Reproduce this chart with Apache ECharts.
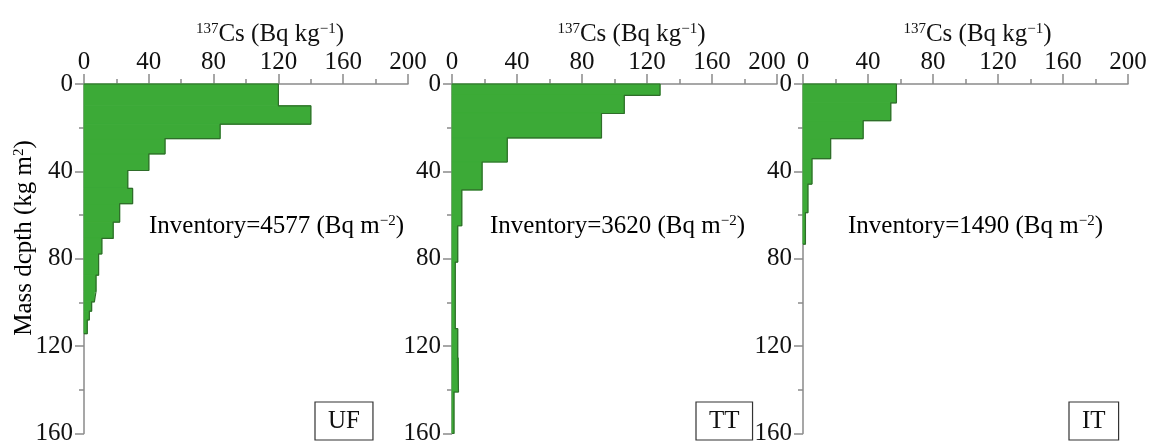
<!DOCTYPE html>
<html><head><meta charset="utf-8">
<script src="https://cdn.jsdelivr.net/npm/echarts@6/dist/echarts.min.js"></script>
<style>html,body{margin:0;padding:0;background:#fff}#c{width:1151px;height:446px}</style>
</head><body><div id="c"></div>
<script>
// ---- data ----
const panels = ['UF', 'TT', 'IT'];
const inventories = [4577, 3620, 1490];
const xTicks = [0, 40, 80, 120, 160, 200];
const yTicks = [0, 40, 80, 120, 160];
// layer boundaries (mass depth, kg m-2) and 137Cs activity (Bq kg-1)
const ufDepth = [0, 10, 18.4, 25, 32, 39.6, 47.8, 54.8, 63.2, 70.7, 77.8, 87.5, 95, 99.7, 104, 108, 114.3];
const ufCs    = [120, 140, 84, 50, 40, 27, 30, 22, 18, 11, 9, 7.4, 6.4, 4.7, 3.3, 2];
const ttDepth = [0, 5.2, 13.5, 24.7, 35.7, 48.5, 64.9, 81.5, 112, 125.4, 141, 160];
const ttCs    = [128, 106, 92, 34, 18.5, 6, 3.5, 2, 3.5, 4, 1.2];
const itDepth = [0, 8.6, 16.8, 25, 34.2, 45.8, 58.9, 73.3];
const itCs    = [57.5, 54, 37, 17, 5.5, 3, 1.5];

const depths = [ufDepth, ttDepth, itDepth];
const values = [ufCs, ttCs, itCs];

// ---- layout / style ----
const FONT = 'Liberation Serif';
const FS = 25;
const gridLefts = [84, 452, 803];
const gridWidths = [324, 325, 325];
const titleShift = [24, 17, 12];
const maxLabelNudge = [0, 20, 0];
const AXIS_C = '#8a8a8a';
const FILL = '#3caa37';
const EDGE = '#2f6d2a';
const richSup = {
  n: { fontFamily: FONT, fontSize: FS, color: '#111' },
  sup: { fontFamily: FONT, fontSize: 15, color: '#111', verticalAlign: 'top' }
};

const grids = [], xAxes = [], yAxes = [], series = [], graphics = [];
panels.forEach((p, i) => {
  grids.push({ left: gridLefts[i], width: gridWidths[i], top: 84, height: 359, containLabel: false });
  const xMax = xTicks[xTicks.length - 1];
  xAxes.push({
    type: 'value', gridIndex: i, position: 'top',
    min: xTicks[0], max: xMax, interval: xTicks[1] - xTicks[0],
    axisLine: { show: true, onZero: false, lineStyle: { color: AXIS_C, width: 1.5 } },
    axisTick: { show: true, inside: false, length: 10, lineStyle: { color: AXIS_C, width: 1.5 } },
    minorTick: { show: true, splitNumber: 2, length: 5, lineStyle: { color: AXIS_C, width: 1.5 } },
    splitLine: { show: false }, minorSplitLine: { show: false },
    axisLabel: {
      fontFamily: FONT, fontSize: FS, color: '#111', margin: 9,
      formatter: (val) => val === xMax && maxLabelNudge[i] ? '{m|' + val + '}' : String(val),
      rich: { m: { fontFamily: FONT, fontSize: FS, color: '#111', padding: [0, maxLabelNudge[i], 0, 0] } }
    },
    name: '{sup|137}{n|Cs (Bq kg}{sup|−1}{n|)}',
    nameLocation: 'middle', nameGap: 37, nameMoveOverlap: false,
    nameTextStyle: { rich: richSup, padding: [0, 0, 0, titleShift[i] * 2] }
  });
  yAxes.push({
    type: 'value', gridIndex: i, inverse: true,
    min: yTicks[0], max: yTicks[yTicks.length - 1], interval: yTicks[1] - yTicks[0],
    axisLine: { show: true, onZero: false, lineStyle: { color: AXIS_C, width: 1.5 } },
    axisTick: { show: true, length: 9, lineStyle: { color: AXIS_C, width: 1.5 } },
    minorTick: { show: true, splitNumber: 2, length: 5, lineStyle: { color: AXIS_C, width: 1.5 } },
    splitLine: { show: false }, minorSplitLine: { show: false },
    axisLabel: { fontFamily: FONT, fontSize: FS, color: '#111', margin: 11 }
  });
  const d = depths[i], v = values[i];
  const layers = v.map((val, k) => [val, d[k], d[k + 1]]);
  series.push({
    type: 'custom', xAxisIndex: i, yAxisIndex: i, silent: true,
    encode: { x: 0, y: [1, 2] },
    data: layers,
    renderItem: (params, api) => {
      const a = api.coord([0, api.value(1)]);
      const b = api.coord([api.value(0), api.value(2)]);
      return { type: 'rect', shape: { x: a[0], y: a[1], width: b[0] - a[0], height: b[1] - a[1] },
               style: { fill: FILL, stroke: FILL, lineWidth: 1 } };
    }
  });
  // step outline
  const pts = [[0, d[0]]];
  v.forEach((val, k) => { pts.push([val, d[k]]); pts.push([val, d[k + 1]]); });
  pts.push([0, d[d.length - 1]]);
  series.push({
    type: 'line', xAxisIndex: i, yAxisIndex: i, data: pts, symbol: 'none', silent: true,
    lineStyle: { color: EDGE, width: 1.2 }, z: 3
  });
});

const invX = [149, 490, 848];
const boxX = [315, 696, 1069];
panels.forEach((p, i) => {
  graphics.push({
    type: 'text', x: invX[i], y: 226, silent: true,
    style: { text: '{n|Inventory=' + inventories[i] + ' (Bq m}{sup|−2}{n|)}', rich: richSup, verticalAlign: 'middle' }
  });
  graphics.push({
    type: 'text', x: boxX[i], y: 402, silent: true,
    style: { text: p, font: FS + 'px "' + FONT + '"', fill: '#111',
             padding: [7, 13, 6, 13], borderColor: '#333', borderWidth: 1.2, verticalAlign: 'top' }
  });
});
graphics.push({
  type: 'text', x: 24, y: 238, rotation: Math.PI / 2, silent: true,
  style: { text: '{n|Mass dcpth (kg m}{sup|2}{n|)}', rich: richSup, align: 'center', verticalAlign: 'middle' }
});

const chart = echarts.init(document.getElementById('c'), null, { renderer: 'canvas' });
chart.setOption({
  animation: false, backgroundColor: '#fff',
  grid: grids, xAxis: xAxes, yAxis: yAxes, series: series, graphic: graphics
});
</script></body></html>
